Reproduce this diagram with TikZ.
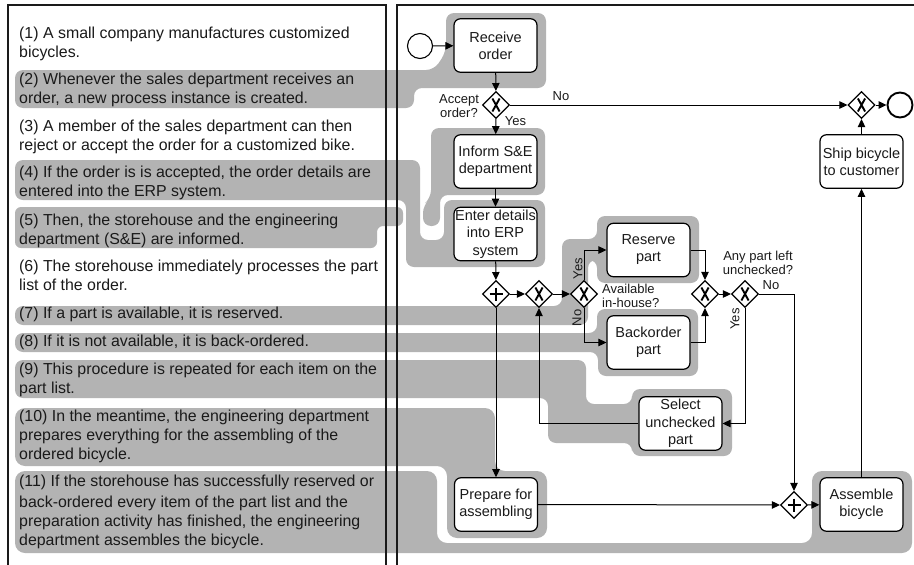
\documentclass[tikz,border=0pt]{standalone}
\usepackage{fontspec}
\setmainfont{Liberation Sans}
\usetikzlibrary{shapes.geometric,arrows.meta}
\definecolor{hl}{HTML}{B3B3B3}
\definecolor{ink}{HTML}{1A1A1A}
\tikzset{
  x=1pt,y=-1pt,
  region/.style={fill=hl,rounded corners=8pt},
  para/.style={anchor=north west,inner sep=0pt,align=left,text=ink,font=\fontsize{15.9}{18.8}\selectfont},
  task/.style={draw=black,fill=white,line width=1.2pt,rounded corners=6.5pt,minimum width=83pt,minimum height=53.5pt,inner sep=0pt,align=center,text=ink,font=\fontsize{14.5}{17}\selectfont},
  gate/.style={diamond,draw=black,fill=white,line width=1.2pt,minimum width=27pt,minimum height=27pt,inner sep=0pt},
  xorgate/.style={gate,path picture={\draw[line width=1.9pt,black] ([xshift=-3.6pt,yshift=6.5pt]path picture bounding box.center) -- ([xshift=3.6pt,yshift=-6.5pt]path picture bounding box.center) ([xshift=3.6pt,yshift=6.5pt]path picture bounding box.center) -- ([xshift=-3.6pt,yshift=-6.5pt]path picture bounding box.center);}},
  andgate/.style={gate,path picture={\draw[line width=1.2pt,black] ([xshift=-6.5pt]path picture bounding box.center) -- ([xshift=6.5pt]path picture bounding box.center) ([yshift=6.5pt]path picture bounding box.center) -- ([yshift=-6.5pt]path picture bounding box.center);}},
  evt/.style={circle,draw=black,fill=white,minimum size=25pt,inner sep=0pt},
  flow/.style={draw=black,line width=1pt,-{Triangle[length=8pt,width=7.5pt]}},
  lab/.style={inner sep=0pt,align=center,text=ink,font=\fontsize{13}{14}\selectfont},
  frame/.style={draw=ink,line width=1.1pt}
}
\begin{document}
\begin{tikzpicture}
\useasboundingbox (0,0) rectangle (914,565);
% highlighted regions
\fill[region] (15,70) -- (434,70) -- (446,52) -- (446,13) -- (546,13) -- (546,88) -- (414,88) -- (414,108) -- (15,108) -- cycle;
\fill[region] (15,160) -- (420,160) -- (420,240) -- (444,240) -- (444,200) -- (545,200) -- (545,267) -- (406,267) -- (406,200) -- (15,200) -- cycle;
\fill[region,rounded corners=6pt] (15,207) -- (403,207) -- (403,226) -- (377,226) -- (377,248) -- (15,248) -- cycle;
\fill[region] (431,128) -- (545,128) -- (545,195) -- (440,195) -- (440,226) -- (423,226) -- (423,205) -- (431,198) -- cycle;
\fill[region] (15,306) -- (562,306) -- (562,239) -- (597,239) -- (597,216) -- (699,216) -- (699,283) -- (597,283) -- (597,260) -- (588,260) -- (588,325) -- (15,325) -- cycle;
\fill[region] (15,333) -- (597,333) -- (597,309) -- (698,309) -- (698,376) -- (598,376) -- (598,352) -- (15,352) -- cycle;
\fill[region] (15,360) -- (586,360) -- (586,404) -- (632,404) -- (632,389) -- (732,389) -- (732,456) -- (632,456) -- (632,443) -- (548,443) -- (548,398) -- (15,398) -- cycle;
\fill[region,rounded corners=10pt] (15,408) -- (495,408) -- (495,471) -- (547,471) -- (547,538) -- (447,538) -- (447,466) -- (15,466) -- cycle;
\fill[region,rounded corners=10pt] (15,471) -- (437,471) -- (437,543) -- (812,543) -- (812,471) -- (912,471) -- (912,553) -- (15,553) -- cycle;
% panels
\draw[frame] (8,565) -- (8,5) -- (386,5) -- (386,565);
\draw[frame] (397,565) -- (397,5) -- (914,5);
% description
\node[para] (p1) at (19,27) {(1) A small company manufactures customized\\bicycles.};
\node[para] (p2) at (19,73) {(2) Whenever the sales department receives an\\order, a new process instance is created.};
\node[para] (p3) at (19,120) {(3) A member of the sales department can then\\reject or accept the order for a customized bike.};
\node[para] (p4) at (19,166) {(4) If the order is is accepted, the order details are\\entered into the ERP system.};
\node[para] (p5) at (19,213.5) {(5) Then, the storehouse and the engineering\\department (S\&E) are informed.};
\node[para] (p6) at (19,260) {(6) The storehouse immediately processes the part\\list of the order.};
\node[para] (p7) at (19,307) {(7) If a part is available, it is reserved.};
\node[para] (p8) at (19,335) {(8) If it is not available, it is back-ordered.};
\node[para] (p9) at (19,363) {(9) This procedure is repeated for each item on the\\part list.};
\node[para] (p10) at (19,410) {(10) In the meantime, the engineering department\\prepares everything for the assembling of the\\ordered bicycle.};
\node[para] (p11) at (19,475) {(11) If the storehouse has successfully reserved or\\[2pt]back-ordered every item of the part list and the\\preparation activity has finished, the engineering\\department assembles the bicycle.};
% process nodes
\node[evt,line width=1.1pt] (start) at (420,46) {};
\node[task] (receive) at (495.5,45.5) {Receive\\order};
\node[xorgate] (accept) at (496,105) {};
\node[task] (inform) at (495.5,161.5) {Inform S\&E\\department};
\node[task,font=\fontsize{14.5}{17.7}\selectfont] (enter) at (495.5,234) {Enter details\\into ERP\\system};
\node[andgate] (and1) at (496,294) {};
\node[xorgate] (xor2) at (539,294) {};
\node[xorgate] (xor3) at (584,294) {};
\node[task] (reserve) at (648.5,250) {Reserve\\part};
\node[task] (backorder) at (648.5,342.5) {Backorder\\part};
\node[xorgate] (xor4) at (705,294) {};
\node[xorgate] (xor5) at (745,294) {};
\node[task,font=\fontsize{14.5}{17.5}\selectfont] (select) at (680.5,423.5) {Select\\unchecked\\part};
\node[task] (prepare) at (496,504.5) {Prepare for\\assembling};
\node[andgate] (and2) at (794,505) {};
\node[task] (assemble) at (861.5,504.5) {Assemble\\bicycle};
\node[task] (ship) at (861.5,161.5) {Ship bicycle\\to customer};
\node[xorgate] (xorend) at (861.5,105) {};
\node[evt,line width=1.9pt] (stop) at (900,105) {};
% flows
\draw[flow] (start) -- (receive);
\draw[flow] (receive) -- (accept);
\draw[flow] (accept) -- (inform);
\draw[flow] (accept) -- (xorend);
\draw[flow] (xorend) -- (stop);
\draw[flow] (inform) -- (enter);
\draw[flow] (enter) -- (and1);
\draw[flow] (and1) -- (xor2);
\draw[flow] (xor2) -- (xor3);
\draw[flow] (xor3.north) |- (reserve.west);
\draw[flow] (xor3.south) |- (backorder.west);
\draw[flow] (reserve.east) -| (xor4.north);
\draw[flow] (backorder.east) -| (xor4.south);
\draw[flow] (xor4) -- (xor5);
\draw[flow] (xor5.south) |- (select.east);
\draw[flow] (select.west) -| (xor2.south);
\draw[flow] (xor5.east) -| (and2.north);
\draw[flow] (and1) -- (prepare);
\draw[flow] (prepare.east) -- (and2.west);
\draw[flow] (and2) -- (assemble);
\draw[flow] (assemble) -- (ship);
\draw[flow] (ship) -- (xorend);
% labels
\node[lab] (l1) at (459,106.5) {Accept\\order?};
\node[lab] (l2) at (561,96.5) {No};
\node[lab] (l3) at (515.5,121.5) {Yes};
\node[lab,rotate=90] (l4) at (578,268.5) {Yes};
\node[lab,rotate=90] (l5) at (577,318) {No};
\node[lab,align=left,anchor=west] (l6) at (602,296) {Available\\in-house?};
\node[lab] (l7) at (758,263) {Any part left\\unchecked?};
\node[lab] (l8) at (771,285.5) {No};
\node[lab,rotate=90] (l9) at (735,319) {Yes};
\end{tikzpicture}
\end{document}
